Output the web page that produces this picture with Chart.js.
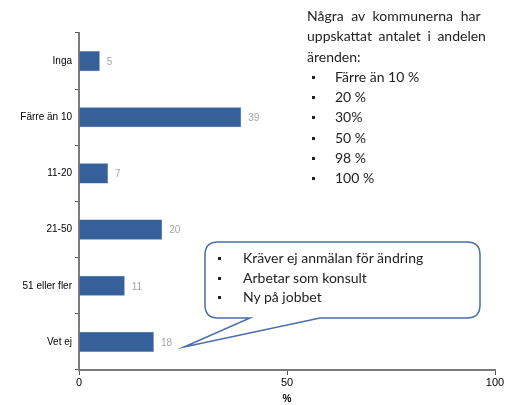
<!DOCTYPE html>
<html>
<head>
<meta charset="utf-8">
<script src="https://cdn.jsdelivr.net/npm/chart.js@4"></script>
<style>
  body { margin: 0; background: #fff; }
  .chart-container { position: relative; width: 507px; height: 405px; }
  .note { position: absolute; font-family: Lato, sans-serif; font-size: 14px; color: #222; line-height: 20.3px; }
  .note ul { margin: 0; padding: 0; list-style: none; }
  .note li { position: relative; padding-left: 28px; }
  .note li::before { content: ""; position: absolute; left: 5px; top: 9px; width: 3px; height: 3px; background: #222; }
</style>
</head>
<body>
<div class="chart-container">
  <canvas id="barChart"></canvas>
  <div class="note" style="left:307px; top:6px; width:200px;">
    <span style="word-spacing:4px;">Några av kommunerna har</span><br>
    <span style="word-spacing:3px;">uppskattat antalet i andelen</span><br>ärenden:
    <ul>
      <li>Färre än 10 %</li>
      <li>20 %</li>
      <li>30%</li>
      <li>50 %</li>
      <li>98 %</li>
      <li>100 %</li>
    </ul>
  </div>
  <div class="note" style="left:213px; top:248px; width:270px; line-height:19.5px;">
    <ul>
      <li style="padding-left:30px;">Kräver ej anmälan för ändring</li>
      <li style="padding-left:30px;">Arbetar som konsult</li>
      <li style="padding-left:30px;">Ny på jobbet</li>
    </ul>
  </div>
</div>
<script>
const categories = ['Inga', 'Färre än 10', '11-20', '21-50', '51 eller fler', 'Vet ej'];
const values = [5, 39, 7, 20, 11, 18];
const xTicks = [0, 50, 100];

document.addEventListener('DOMContentLoaded', () => {
    // grey value labels next to the bars
    const valueLabels = {
        id: 'valueLabels',
        afterDatasetsDraw(chart) {
            const ctx = chart.ctx;
            const meta = chart.getDatasetMeta(0);
            ctx.save();
            ctx.font = '10px "Liberation Sans", Arial, sans-serif';
            ctx.fillStyle = '#a6a6a6';
            ctx.textBaseline = 'middle';
            meta.data.forEach((bar, i) => {
                ctx.fillText(String(values[i]), bar.x + 7, bar.y + 1);
            });
            ctx.restore();
        }
    };

    // speech bubble outline
    const callout = {
        id: 'callout',
        afterDraw(chart) {
            const ctx = chart.ctx;
            const l = 205, t = 242, r = 480, b = 318, rad = 13;
            ctx.save();
            ctx.beginPath();
            ctx.moveTo(l + rad, t);
            ctx.lineTo(r - rad, t);
            ctx.quadraticCurveTo(r, t, r, t + rad);
            ctx.lineTo(r, b - rad);
            ctx.quadraticCurveTo(r, b, r - rad, b);
            ctx.lineTo(320, b);
            ctx.lineTo(184, 347);
            ctx.lineTo(250, b);
            ctx.lineTo(l + rad, b);
            ctx.quadraticCurveTo(l, b, l, b - rad);
            ctx.lineTo(l, t + rad);
            ctx.quadraticCurveTo(l, t, l + rad, t);
            ctx.closePath();
            ctx.fillStyle = '#ffffff';
            ctx.fill();
            ctx.strokeStyle = '#4a6ea8';
            ctx.lineWidth = 1.5;
            ctx.stroke();
            ctx.restore();
        }
    };

    const ctx1 = document.getElementById('barChart').getContext('2d');
    new Chart(ctx1, {
        type: 'bar',
        data: {
            labels: categories,
            datasets: [{
                data: values,
                backgroundColor: '#36609a',
                borderColor: '#4d78b3',
                borderWidth: 0.5,
                categoryPercentage: 1,
                barPercentage: 0.36
            }]
        },
        options: {
            indexAxis: 'y',
            responsive: true,
            maintainAspectRatio: false,
            animation: false,
            layout: { padding: { top: 33, right: 12, left: 0, bottom: 0 } },
            scales: {
                x: {
                    type: 'linear',
                    min: 0,
                    max: 100,
                    afterBuildTicks: (scale) => {
                        scale.ticks = xTicks.map(v => ({ value: v }));
                    },
                    afterFit: (scale) => { scale.height = 35; },
                    border: { color: '#7a7a7a', width: 2 },
                    grid: { drawOnChartArea: false, tickLength: 5, color: '#555' },
                    ticks: {
                        color: '#000',
                        padding: 1,
                        font: { family: '"Liberation Sans", Arial, sans-serif', size: 11 }
                    },
                    title: {
                        display: true,
                        text: '%',
                        color: '#000',
                        padding: 0,
                        font: { family: '"Liberation Sans", Arial, sans-serif', size: 10, weight: 'bold' }
                    }
                },
                y: {
                    afterFit: (scale) => { scale.width = 79; },
                    border: { color: '#7a7a7a', width: 2 },
                    grid: { offset: true, drawOnChartArea: false, tickLength: 4, color: '#555' },
                    ticks: {
                        color: '#000',
                        padding: 3,
                        font: { family: '"Liberation Sans", Arial, sans-serif', size: 10 }
                    }
                }
            },
            plugins: {
                legend: { display: false },
                tooltip: { enabled: false }
            }
        },
        plugins: [valueLabels, callout]
    });
});
</script>
</body>
</html>
